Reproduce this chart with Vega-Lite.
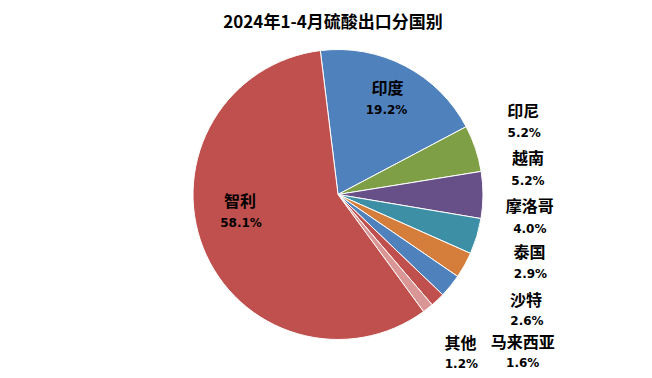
{
  "$schema": "https://vega.github.io/schema/vega-lite/v6.json",
  "width": 652,
  "height": 378,
  "autosize": {"type": "fit", "contains": "padding"},
  "padding": {"left": 24, "right": 0, "top": 14, "bottom": 29},
  "background": "white",
  "view": {"stroke": null},
  "title": {
    "text": "2024年1-4月硫酸出口分国别",
    "font": "Noto Sans CJK SC",
    "fontSize": 17,
    "fontWeight": "bold",
    "color": "#000000",
    "anchor": "middle",
    "dx": -5,
    "offset": 8
  },
  "data": {
    "values": [
      {"name": "印度", "value": 19.2, "rank": 1},
      {"name": "印尼", "value": 5.2, "rank": 2},
      {"name": "越南", "value": 5.2, "rank": 3},
      {"name": "摩洛哥", "value": 4.0, "rank": 4},
      {"name": "泰国", "value": 2.9, "rank": 5},
      {"name": "沙特", "value": 2.6, "rank": 6},
      {"name": "马来西亚", "value": 1.6, "rank": 7},
      {"name": "其他", "value": 1.2, "rank": 8},
      {"name": "智利", "value": 58.1, "rank": 9}
    ]
  },
  "transform": [
    {"stack": "value", "groupby": [], "sort": [{"field": "rank", "order": "ascending"}], "as": ["v0", "v1"]},
    {"calculate": "(datum.v0 + datum.v1) / 2", "as": "vm"},
    {"calculate": "format(datum.value, '.1f') + '%'", "as": "pct"}
  ],
  "layer": [
    {
      "mark": {"type": "arc", "outerRadius": 145, "stroke": "#ffffff", "strokeWidth": 1},
      "encoding": {
        "theta": {"field": "v0", "type": "quantitative", "scale": {"domain": [0, 100], "range": [-0.1222, 6.1610]}},
        "theta2": {"field": "v1"},
        "color": {
          "field": "name", "type": "nominal", "legend": null,
          "scale": {
            "domain": ["印度", "印尼", "越南", "摩洛哥", "泰国", "沙特", "马来西亚", "其他", "智利"],
            "range": ["#4F81BD", "#7F9F47", "#674F87", "#3D8FA6", "#D57D3A", "#4F81BD", "#C0504D", "#D99694", "#C0504D"]
          }
        }
      }
    },
    {"transform": [{"filter": "datum.name === '印度'"}], "mark": {"type": "text", "radius": 107, "dx": 0, "dy": -11, "font": "Noto Sans CJK SC", "fontWeight": "bold", "fontSize": 16, "baseline": "middle", "align": "center", "color": "#000000"}, "encoding": {"theta": {"field": "vm", "type": "quantitative", "stack": null}, "text": {"field": "name"}}},
    {"transform": [{"filter": "datum.name === '印度'"}], "mark": {"type": "text", "radius": 107, "dx": -1, "dy": 10, "font": "DejaVu Sans", "fontWeight": "bold", "fontSize": 12, "baseline": "middle", "align": "center", "color": "#000000"}, "encoding": {"theta": {"field": "vm", "type": "quantitative", "stack": null}, "text": {"field": "pct"}}},
    {"transform": [{"filter": "datum.name === '智利'"}], "mark": {"type": "text", "radius": 100, "dx": -5, "dy": -29, "font": "Noto Sans CJK SC", "fontWeight": "bold", "fontSize": 16, "baseline": "middle", "align": "center", "color": "#000000"}, "encoding": {"theta": {"field": "vm", "type": "quantitative", "stack": null}, "text": {"field": "name"}}},
    {"transform": [{"filter": "datum.name === '智利'"}], "mark": {"type": "text", "radius": 100, "dx": -4, "dy": -8, "font": "DejaVu Sans", "fontWeight": "bold", "fontSize": 12, "baseline": "middle", "align": "center", "color": "#000000"}, "encoding": {"theta": {"field": "vm", "type": "quantitative", "stack": null}, "text": {"field": "pct"}}},
    {"transform": [{"filter": "datum.name === '印尼'"}], "mark": {"type": "text", "radius": 170, "dx": 24, "dy": -28, "font": "Noto Sans CJK SC", "fontWeight": "bold", "fontSize": 16, "baseline": "middle", "align": "center", "color": "#000000"}, "encoding": {"theta": {"field": "vm", "type": "quantitative", "stack": null}, "text": {"field": "name"}}},
    {"transform": [{"filter": "datum.name === '印尼'"}], "mark": {"type": "text", "radius": 170, "dx": 25, "dy": -7, "font": "DejaVu Sans", "fontWeight": "bold", "fontSize": 12, "baseline": "middle", "align": "center", "color": "#000000"}, "encoding": {"theta": {"field": "vm", "type": "quantitative", "stack": null}, "text": {"field": "pct"}}},
    {"transform": [{"filter": "datum.name === '越南'"}], "mark": {"type": "text", "radius": 170, "dx": 20, "dy": -36, "font": "Noto Sans CJK SC", "fontWeight": "bold", "fontSize": 16, "baseline": "middle", "align": "center", "color": "#000000"}, "encoding": {"theta": {"field": "vm", "type": "quantitative", "stack": null}, "text": {"field": "name"}}},
    {"transform": [{"filter": "datum.name === '越南'"}], "mark": {"type": "text", "radius": 170, "dx": 20, "dy": -14, "font": "DejaVu Sans", "fontWeight": "bold", "fontSize": 12, "baseline": "middle", "align": "center", "color": "#000000"}, "encoding": {"theta": {"field": "vm", "type": "quantitative", "stack": null}, "text": {"field": "pct"}}},
    {"transform": [{"filter": "datum.name === '摩洛哥'"}], "mark": {"type": "text", "radius": 170, "dx": 29, "dy": -37, "font": "Noto Sans CJK SC", "fontWeight": "bold", "fontSize": 16, "baseline": "middle", "align": "center", "color": "#000000"}, "encoding": {"theta": {"field": "vm", "type": "quantitative", "stack": null}, "text": {"field": "name"}}},
    {"transform": [{"filter": "datum.name === '摩洛哥'"}], "mark": {"type": "text", "radius": 170, "dx": 29, "dy": -15, "font": "DejaVu Sans", "fontWeight": "bold", "fontSize": 12, "baseline": "middle", "align": "center", "color": "#000000"}, "encoding": {"theta": {"field": "vm", "type": "quantitative", "stack": null}, "text": {"field": "pct"}}},
    {"transform": [{"filter": "datum.name === '泰国'"}], "mark": {"type": "text", "radius": 170, "dx": 43, "dy": -24, "font": "Noto Sans CJK SC", "fontWeight": "bold", "fontSize": 16, "baseline": "middle", "align": "center", "color": "#000000"}, "encoding": {"theta": {"field": "vm", "type": "quantitative", "stack": null}, "text": {"field": "name"}}},
    {"transform": [{"filter": "datum.name === '泰国'"}], "mark": {"type": "text", "radius": 170, "dx": 44, "dy": -3, "font": "DejaVu Sans", "fontWeight": "bold", "fontSize": 12, "baseline": "middle", "align": "center", "color": "#000000"}, "encoding": {"theta": {"field": "vm", "type": "quantitative", "stack": null}, "text": {"field": "pct"}}},
    {"transform": [{"filter": "datum.name === '沙特'"}], "mark": {"type": "text", "radius": 170, "dx": 56, "dy": -1, "font": "Noto Sans CJK SC", "fontWeight": "bold", "fontSize": 16, "baseline": "middle", "align": "center", "color": "#000000"}, "encoding": {"theta": {"field": "vm", "type": "quantitative", "stack": null}, "text": {"field": "name"}}},
    {"transform": [{"filter": "datum.name === '沙特'"}], "mark": {"type": "text", "radius": 170, "dx": 57, "dy": 19, "font": "DejaVu Sans", "fontWeight": "bold", "fontSize": 12, "baseline": "middle", "align": "center", "color": "#000000"}, "encoding": {"theta": {"field": "vm", "type": "quantitative", "stack": null}, "text": {"field": "pct"}}},
    {"transform": [{"filter": "datum.name === '马来西亚'"}], "mark": {"type": "text", "radius": 170, "dx": 68, "dy": 25, "font": "Noto Sans CJK SC", "fontWeight": "bold", "fontSize": 16, "baseline": "middle", "align": "center", "color": "#000000"}, "encoding": {"theta": {"field": "vm", "type": "quantitative", "stack": null}, "text": {"field": "name"}}},
    {"transform": [{"filter": "datum.name === '马来西亚'"}], "mark": {"type": "text", "radius": 170, "dx": 68, "dy": 45, "font": "DejaVu Sans", "fontWeight": "bold", "fontSize": 12, "baseline": "middle", "align": "center", "color": "#000000"}, "encoding": {"theta": {"field": "vm", "type": "quantitative", "stack": null}, "text": {"field": "pct"}}},
    {"transform": [{"filter": "datum.name === '其他'"}], "mark": {"type": "text", "radius": 170, "dx": 17, "dy": 16, "font": "Noto Sans CJK SC", "fontWeight": "bold", "fontSize": 16, "baseline": "middle", "align": "center", "color": "#000000"}, "encoding": {"theta": {"field": "vm", "type": "quantitative", "stack": null}, "text": {"field": "name"}}},
    {"transform": [{"filter": "datum.name === '其他'"}], "mark": {"type": "text", "radius": 170, "dx": 18, "dy": 36, "font": "DejaVu Sans", "fontWeight": "bold", "fontSize": 12, "baseline": "middle", "align": "center", "color": "#000000"}, "encoding": {"theta": {"field": "vm", "type": "quantitative", "stack": null}, "text": {"field": "pct"}}}
  ]
}
